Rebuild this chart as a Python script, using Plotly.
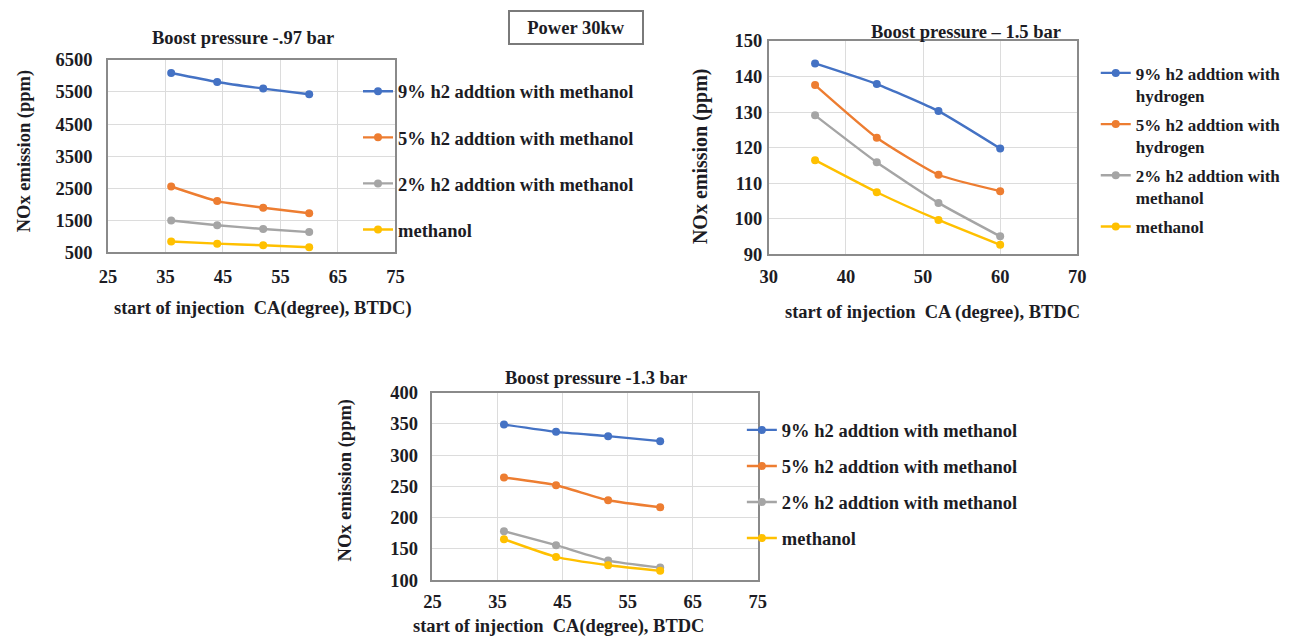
import plotly.graph_objects as go

W, H = 1315, 644
# page pixels -> paper coordinates (the html body keeps its default 8px margin)
BODY_MARGIN = 8
SX = W / (W + 2 * BODY_MARGIN)
SY = H / (H + 2 * BODY_MARGIN)

# start of injection, CA degrees BTDC
soi = [36, 44, 52, 60]

# NOx emission (ppm) at boost pressure -.97 bar
bp097_h2_9 = [6090, 5810, 5605, 5430]
bp097_h2_5 = [2555, 2100, 1895, 1720]
bp097_h2_2 = [1495, 1350, 1230, 1135]
bp097_meth = [840, 775, 725, 665]

# NOx emission (ppm) at boost pressure 1.5 bar
bp15_h2_9 = [143.7, 137.9, 130.3, 119.8]
bp15_h2_5 = [137.6, 122.8, 112.4, 107.8]
bp15_h2_2 = [129.1, 115.9, 104.5, 95.1]
bp15_meth = [116.5, 107.5, 99.7, 92.7]

# NOx emission (ppm) at boost pressure -1.3 bar
bp13_h2_9 = [348.8, 337.1, 330.2, 322.2]
bp13_h2_5 = [264.1, 251.8, 227.8, 216.6]
bp13_h2_2 = [178.3, 155.9, 131.3, 120.1]
bp13_meth = [165.5, 137.2, 123.9, 114.9]

names_methanol = ["9% h2 addtion with methanol", "5% h2 addtion with methanol",
                  "2% h2 addtion with methanol", "methanol"]
names_15 = ["9% h2 addtion with<br>hydrogen", "5% h2 addtion with<br>hydrogen",
            "2% h2 addtion with<br>methanol", "methanol"]

colors = ["#4472C4", "#ED7D31", "#A5A5A5", "#FFC000"]

FONT = "Liberation Serif, Times New Roman, Tinos, serif"
TXT = "#1c1c24"
FS = 18.5


def px_x(v):
    return (v / SX - BODY_MARGIN) / W


def px_y(v):
    return 1 - (v / SY - BODY_MARGIN) / H


fig = go.Figure()

panels = [
    ("x", "y", "legend", names_methanol, [bp097_h2_9, bp097_h2_5, bp097_h2_2, bp097_meth]),
    ("x2", "y2", "legend2", names_15, [bp15_h2_9, bp15_h2_5, bp15_h2_2, bp15_meth]),
    ("x3", "y3", "legend3", names_methanol, [bp13_h2_9, bp13_h2_5, bp13_h2_2, bp13_meth]),
]

for xa, ya, lg, names, series in panels:
    for i, (nm, vals) in enumerate(zip(names, series)):
        fig.add_trace(go.Scatter(
            x=soi, y=vals, name=nm, mode="lines+markers",
            line=dict(color=colors[i], width=2.4, shape="spline", smoothing=0.5),
            marker=dict(color=colors[i], size=8),
            xaxis=xa, yaxis=ya, legend=lg, legendgroup=f"{lg}_{i}",
        ))

axis_common = dict(
    showline=True, mirror=True, linecolor="#8a8a8a", linewidth=1.5,
    showgrid=True, gridcolor="#dcdcdc", gridwidth=1, zeroline=False,
    ticks="", tickfont=dict(family=FONT, size=FS, color=TXT, weight="bold"),
    fixedrange=True, tickmode="linear",
)

fig.update_layout(
    width=W, height=H, margin=dict(l=0, r=0, t=0, b=0),
    paper_bgcolor="white", plot_bgcolor="white",
    xaxis=dict(domain=[px_x(107), px_x(395)], range=[25, 75], tick0=25, dtick=10, anchor="y",
               ticklabelstandoff=7, **axis_common),
    yaxis=dict(domain=[px_y(252), px_y(58)], range=[500, 6500], tick0=500, dtick=1000, anchor="x",
               ticklabelstandoff=10, **axis_common),
    xaxis2=dict(domain=[px_x(769), px_x(1078)], range=[30, 70], tick0=30, dtick=10, anchor="y2",
                ticklabelstandoff=5, **axis_common),
    yaxis2=dict(domain=[px_y(254), px_y(39)], range=[90, 150], tick0=90, dtick=10, anchor="x2",
                ticklabelstandoff=1, **axis_common),
    xaxis3=dict(domain=[px_x(432), px_x(758)], range=[25, 75], tick0=25, dtick=10, anchor="y3",
                ticklabelstandoff=4, **axis_common),
    yaxis3=dict(domain=[px_y(582), px_y(393)], range=[100, 400], tick0=100, dtick=50, anchor="x3",
                ticklabelstandoff=9, **axis_common),
    showlegend=True,
)

legend_common = dict(
    bgcolor="rgba(0,0,0,0)", borderwidth=0, xanchor="left", yanchor="top",
    itemclick=False, itemdoubleclick=False, itemwidth=30,
)
fig.update_layout(
    legend=dict(x=px_x(357.5), y=px_y(71), tracegroupgap=19,
                font=dict(family=FONT, size=FS, color=TXT, weight="bold"), **legend_common),
    legend2=dict(x=px_x(1096.5), y=px_y(53.5), tracegroupgap=4, valign="top",
                 font=dict(family=FONT, size=17, color=TXT, weight="bold"), **legend_common),
    legend3=dict(x=px_x(742), y=px_y(412), tracegroupgap=9,
                 font=dict(family=FONT, size=FS, color=TXT, weight="bold"), **legend_common),
)


def note(text, x, y, size=FS, angle=0):
    fig.add_annotation(text=f"<b>{text}</b>", x=px_x(x), y=px_y(y), xref="paper", yref="paper",
                       showarrow=False, textangle=angle, xanchor="center", yanchor="middle",
                       font=dict(family=FONT, size=size, color=TXT))


# panel titles
note("Boost pressure -.97 bar", 242, 36)
note("Boost pressure \u2013 1.5 bar", 967, 30)
note("Boost pressure -1.3 bar", 596, 378)

# x axis titles
note("start of injection  CA(degree), BTDC)", 262, 308)
note("start of injection  CA (degree), BTDC", 933, 312)
note("start of injection  CA(degree), BTDC", 558, 629)

# y axis titles
note("NOx emission (ppm)", 23, 150, angle=-90)
note("NOx emission (ppm)", 700, 155, size=20, angle=-90)
note("NOx emission (ppm)", 345, 482, angle=-90)

# engine power box
fig.add_annotation(text="<b>Power 30kw</b>", x=px_x(576), y=px_y(25.5), xref="paper", yref="paper",
                   showarrow=False, xanchor="center", yanchor="middle",
                   width=130, height=29, bordercolor="#7a7a7a", borderwidth=2, bgcolor="white",
                   font=dict(family=FONT, size=FS, color=TXT))

fig.write_html("out.html")
